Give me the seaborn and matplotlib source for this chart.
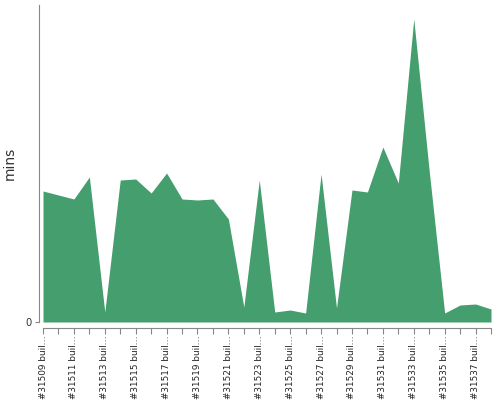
import numpy as np
import pandas as pd
import matplotlib
matplotlib.use("Agg")
import matplotlib.pyplot as plt
import seaborn as sns

# build numbers shown on the x axis (30 builds)
build_ids = list(range(31509, 31539))
build_labels = ["#%d buil…" % b for b in build_ids]

# build duration in minutes
mins = [13.1, 12.7, 12.3, 14.5, 1.0, 14.2, 14.3, 12.9, 14.9, 12.3,
        12.2, 12.3, 10.3, 1.5, 14.2, 1.0, 1.2, 0.9, 14.8, 1.4,
        13.2, 13.0, 17.5, 13.9, 30.3, 15.1, 0.9, 1.7, 1.8, 1.3]

data = pd.DataFrame({"idx": range(len(build_ids)), "build": build_labels, "mins": mins})

sns.set_theme(style="white")
plt.rcParams["font.family"] = ["DejaVu Sans"]

fig = plt.figure(figsize=(5, 4), dpi=100)
ax = fig.add_axes([43 / 500, 78 / 400, 448 / 500, 317 / 400])

green = "#449e6d"
sns.lineplot(data=data, x="idx", y="mins", ax=ax, color=green, linewidth=0)
ax.fill_between(data["idx"], data["mins"], 0, color=green, linewidth=0)

ax.set_xlim(0, len(build_ids) - 1)
ax.set_ylim(0, 31.7)

for s in ["top", "right"]:
    ax.spines[s].set_visible(False)
ax.spines["left"].set_position(("outward", 3))
ax.spines["bottom"].set_position(("outward", 4))
for s in ["left", "bottom"]:
    ax.spines[s].set_color("#888888")
    ax.spines[s].set_linewidth(0.8)

ax.set_xticks(data["idx"])
ax.set_xticklabels([lab if i % 2 == 0 else "" for i, lab in enumerate(build_labels)],
                   rotation=90, fontsize=6.4, color="#222222")
ax.set_yticks([0])
ax.set_yticklabels(["0"], fontsize=7.2, color="#333333")
ax.tick_params(axis="x", direction="out", length=4, width=0.8, color="#888888", pad=2, bottom=True)
ax.tick_params(axis="y", direction="out", length=3, width=0.8, color="#888888", pad=2, left=True)

ax.set_xlabel(None)
ax.set_ylabel("mins", fontsize=10, color="#333333")
ax.yaxis.set_label_coords(-0.058, 0.5)

fig.savefig("out.png", dpi=100)
